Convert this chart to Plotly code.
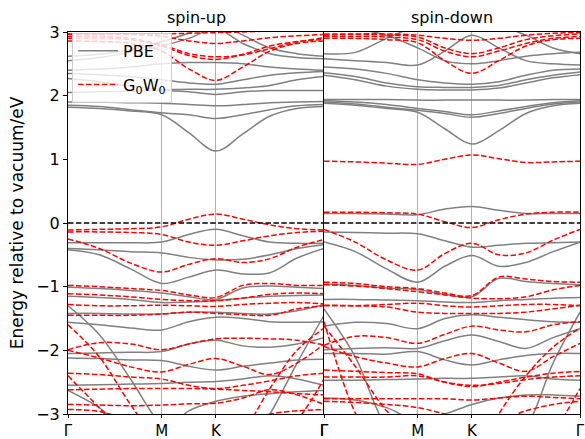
import plotly.graph_objects as go

# k-path sample positions (Γ -> M -> K -> Γ, hexagonal BZ path lengths)
K_PATH = [0.0, 0.192, 0.385, 0.577, 0.744, 0.911, 1.077, 1.244, 1.411, 1.577]
TICK_POS = [0.0, 0.577, 0.911, 1.577]
TICK_LABELS = ["Γ", "M", "K", "Γ"]
Y_TICKS = [-3, -2, -1, 0, 1, 2, 3]
PANEL_TITLES = ["spin-up", "spin-down"]

# spin-up, PBE bands (eV)
UP_PBE = [
    [1.82, 1.80, 1.76, 1.70, 1.42, 1.13, 1.40, 1.68, 1.80, 1.83],
    [1.85, 1.83, 1.78, 1.73, 1.70, 1.64, 1.70, 1.78, 1.84, 1.86],
    [1.90, 1.90, 1.89, 1.88, 1.86, 1.84, 1.86, 1.89, 1.90, 1.91],
    [2.05, 2.06, 2.07, 2.08, 2.06, 2.02, 2.06, 2.08, 2.08, 2.08],
    [2.27, 2.22, 2.15, 2.10, 2.10, 2.10, 2.12, 2.16, 2.25, 2.30],
    [2.35, 2.33, 2.30, 2.25, 2.20, 2.18, 2.25, 2.32, 2.36, 2.38],
    [2.40, 2.42, 2.45, 2.50, 2.52, 2.52, 2.50, 2.45, 2.42, 2.40],
    [2.55, 2.60, 2.68, 2.78, 2.90, 3.05, 2.82, 2.66, 2.60, 2.58],
    [2.62, 2.65, 2.72, 2.85, 2.98, 3.15, 2.95, 2.75, 2.66, 2.62],
    [-0.31, -0.31, -0.31, -0.30, -0.18, -0.10, -0.20, -0.30, -0.32, -0.32],
    [-0.40, -0.42, -0.45, -0.47, -0.54, -0.58, -0.57, -0.50, -0.40, -0.34],
    [-0.42, -0.50, -0.72, -0.95, -0.85, -0.74, -0.80, -0.78, -0.55, -0.40],
    [-1.01, -1.03, -1.06, -1.10, -1.16, -1.20, -1.02, -0.99, -1.01, -1.03],
    [-1.15, -1.17, -1.20, -1.25, -1.24, -1.22, -1.18, -1.15, -1.14, -1.13],
    [-1.42, -1.42, -1.43, -1.43, -1.40, -1.40, -1.42, -1.43, -1.38, -1.28],
    [-1.56, -1.60, -1.65, -1.68, -1.55, -1.48, -1.50, -1.55, -1.56, -1.55],
    [-2.05, -2.04, -2.03, -2.02, -1.90, -1.84, -1.93, -1.95, -1.90, -1.80],
    [-2.12, -2.13, -2.15, -2.16, -2.25, -2.31, -2.25, -2.20, -2.15, -2.14],
    [-2.55, -2.54, -2.53, -2.52, -2.50, -2.49, -2.45, -2.40, -2.45, -2.55],
    [-2.63, -2.90, -3.30, -3.30, -2.95, -2.80, -2.72, -2.68, -2.65, -2.63],
    [-1.30, -1.75, -2.45, -3.20, -3.60, -3.80, -3.60, -3.00, -2.20, -1.45],
]

# spin-up, G0W0 bands (eV)
UP_GW = [
    [2.86, 2.85, 2.82, 2.70, 2.42, 2.24, 2.45, 2.70, 2.82, 2.86],
    [2.90, 2.90, 2.88, 2.78, 2.63, 2.57, 2.65, 2.78, 2.85, 2.88],
    [2.93, 2.93, 2.90, 2.80, 2.66, 2.61, 2.64, 2.74, 2.84, 2.91],
    [2.97, 2.97, 2.96, 2.93, 2.86, 2.82, 2.86, 2.91, 2.94, 2.96],
    [2.96, 2.96, 2.97, 2.97, 2.98, 2.99, 3.00, 3.02, 3.05, 3.05],
    [-0.11, -0.10, -0.09, -0.06, 0.06, 0.14, 0.06, -0.03, -0.09, -0.11],
    [-0.14, -0.14, -0.15, -0.18, -0.30, -0.35, -0.28, -0.20, -0.15, -0.13],
    [-0.25, -0.40, -0.63, -0.77, -0.65, -0.56, -0.62, -0.56, -0.38, -0.26],
    [-0.98, -1.00, -1.03, -1.06, -1.13, -1.17, -0.98, -0.95, -0.98, -0.98],
    [-1.11, -1.13, -1.16, -1.20, -1.22, -1.22, -1.18, -1.12, -1.10, -1.11],
    [-1.28, -1.30, -1.30, -1.29, -1.30, -1.31, -1.28, -1.26, -1.25, -1.27],
    [-1.45, -1.45, -1.45, -1.43, -1.40, -1.42, -1.44, -1.45, -1.35, -1.30],
    [-1.99, -1.88, -1.90, -1.99, -1.90, -1.82, -1.81, -1.82, -1.84, -1.92],
    [-2.00, -2.12, -2.26, -2.34, -2.22, -2.13, -2.25, -2.38, -2.20, -1.90],
    [-2.36, -2.38, -2.42, -2.45, -2.55, -2.60, -2.55, -2.48, -2.40, -2.36],
    [-2.62, -2.61, -2.60, -2.60, -2.60, -2.61, -2.63, -2.65, -2.68, -2.70],
    [-2.85, -2.86, -2.87, -2.86, -2.84, -2.83, -2.75, -2.62, -2.70, -2.85],
    [-2.93, -2.96, -3.10, -3.20, -3.30, -3.20, -3.10, -3.00, -2.95, -2.93],
    [-1.60, -2.10, -2.85, -3.50, -3.80, -3.80, -3.30, -2.60, -2.00, -1.65],
    [-2.40, -2.90, -3.40, -3.60, -3.60, -3.60, -3.60, -3.50, -3.10, -2.45],
]

# spin-down, PBE bands (eV)
DN_PBE = [
    [1.88, 1.85, 1.80, 1.74, 1.48, 1.24, 1.45, 1.72, 1.84, 1.88],
    [1.90, 1.87, 1.82, 1.77, 1.72, 1.66, 1.72, 1.80, 1.87, 1.90],
    [1.92, 1.90, 1.86, 1.80, 1.75, 1.70, 1.76, 1.83, 1.89, 1.92],
    [1.94, 1.94, 1.94, 1.93, 1.93, 1.93, 1.93, 1.93, 1.94, 1.94],
    [2.32, 2.25, 2.15, 2.10, 2.09, 2.09, 2.12, 2.20, 2.28, 2.33],
    [2.36, 2.30, 2.20, 2.14, 2.13, 2.13, 2.16, 2.25, 2.32, 2.37],
    [2.45, 2.42, 2.35, 2.25, 2.20, 2.18, 2.22, 2.32, 2.40, 2.42],
    [2.58, 2.55, 2.52, 2.48, 2.70, 2.95, 2.75, 2.55, 2.50, 2.48],
    [2.66, 2.68, 2.90, 3.10, 3.20, 3.20, 3.10, 2.95, 2.75, 2.66],
    [3.10, 3.05, 2.95, 2.75, 2.55, 2.50, 2.55, 2.62, 2.66, 2.68],
    [0.15, 0.15, 0.14, 0.13, 0.22, 0.26, 0.20, 0.15, 0.15, 0.15],
    [-0.14, -0.15, -0.16, -0.17, -0.28, -0.38, -0.35, -0.32, -0.31, -0.30],
    [-0.30, -0.45, -0.72, -0.93, -0.68, -0.51, -0.68, -0.62, -0.45, -0.30],
    [-0.96, -0.98, -1.02, -1.05, -1.12, -1.16, -0.87, -0.92, -0.95, -0.97],
    [-1.20, -1.20, -1.21, -1.22, -1.24, -1.25, -1.22, -1.20, -1.18, -1.17],
    [-1.62, -1.56, -1.58, -1.66, -1.50, -1.44, -1.48, -1.52, -1.55, -1.56],
    [-1.99, -1.97, -1.96, -1.97, -1.85, -1.76, -1.86, -1.97, -1.80, -1.66],
    [-2.05, -2.05, -2.06, -2.02, -2.15, -2.23, -2.15, -2.08, -2.05, -2.05],
    [-2.47, -2.47, -2.46, -2.45, -2.44, -2.44, -2.42, -2.40, -2.45, -2.47],
    [-1.35, -2.10, -3.20, -3.60, -3.80, -3.80, -3.50, -3.20, -2.20, -1.40],
    [-2.75, -2.78, -2.90, -3.10, -3.00, -2.85, -2.75, -2.70, -2.70, -2.72],
]

# spin-down, G0W0 bands (eV)
DN_GW = [
    [0.97, 0.96, 0.94, 0.92, 1.00, 1.07, 1.01, 0.95, 0.96, 0.97],
    [2.90, 2.90, 2.88, 2.83, 2.55, 2.35, 2.55, 2.78, 2.88, 2.90],
    [2.93, 2.93, 2.92, 2.88, 2.70, 2.61, 2.70, 2.82, 2.90, 2.93],
    [2.95, 2.96, 2.95, 2.92, 2.75, 2.66, 2.75, 2.88, 2.94, 2.97],
    [2.97, 2.97, 2.97, 2.95, 2.90, 2.87, 2.90, 2.95, 2.98, 2.99],
    [0.17, 0.17, 0.16, 0.14, 0.02, -0.07, 0.05, 0.14, 0.17, 0.17],
    [-0.10, -0.30, -0.58, -0.74, -0.48, -0.32, -0.50, -0.47, -0.27, -0.10],
    [-0.93, -0.95, -1.00, -1.03, -1.10, -1.14, -0.85, -0.88, -0.92, -0.93],
    [-0.97, -0.99, -1.03, -1.08, -1.13, -1.18, -1.19, -1.16, -1.05, -0.98],
    [-1.30, -1.30, -1.28, -1.26, -1.30, -1.32, -1.30, -1.28, -1.28, -1.30],
    [-1.29, -1.30, -1.32, -1.40, -1.42, -1.42, -1.42, -1.40, -1.35, -1.29],
    [-1.92, -1.78, -1.80, -1.89, -1.75, -1.62, -1.68, -1.71, -1.60, -1.55],
    [-1.94, -2.10, -2.20, -2.26, -2.13, -2.05, -2.20, -2.33, -2.10, -1.89],
    [-2.31, -2.33, -2.35, -2.37, -2.50, -2.57, -2.50, -2.42, -2.36, -2.33],
    [-2.42, -2.42, -2.42, -2.40, -2.50, -2.55, -2.52, -2.46, -2.42, -2.40],
    [-2.76, -2.76, -2.76, -2.76, -2.76, -2.78, -2.75, -2.72, -2.74, -2.76],
    [-1.55, -2.98, -3.80, -4.00, -4.00, -4.00, -4.00, -3.80, -3.30, -2.60],
    [-1.62, -2.25, -2.95, -3.40, -3.70, -3.80, -3.00, -2.40, -1.95, -1.65],
    [-2.80, -2.82, -2.85, -2.90, -3.00, -3.10, -3.10, -2.95, -2.85, -2.80],
]

FONT = "DejaVu Sans"
GRAY = "#808080"
RED = "#ff0000"
DASH = "5.5px,2.4px"

fig = go.Figure()


def add_bands(bands, xa, ya, color, dash, name, legend):
    for i, band in enumerate(bands):
        fig.add_trace(go.Scatter(
            x=K_PATH, y=band, xaxis=xa, yaxis=ya, mode="lines",
            line=dict(color=color, width=1.5, dash=dash, shape="spline", smoothing=1.0),
            name=name, legendgroup=name, showlegend=(legend and i == 0),
            hoverinfo="skip"))


add_bands(UP_PBE, "x", "y", GRAY, "solid", "PBE", True)
add_bands(DN_PBE, "x2", "y2", GRAY, "solid", "PBE", False)
add_bands(UP_GW, "x", "y", RED, DASH, "G<sub>0</sub>W<sub>0</sub>", True)
add_bands(DN_GW, "x2", "y2", RED, DASH, "G<sub>0</sub>W<sub>0</sub>", False)

for xa, ya in (("x", "y"), ("x2", "y2")):
    fig.add_trace(go.Scatter(
        x=[TICK_POS[0], TICK_POS[-1]], y=[0, 0], xaxis=xa, yaxis=ya, mode="lines",
        line=dict(color="black", width=1.5, dash=DASH),
        showlegend=False, hoverinfo="skip"))

xcommon = dict(
    range=[TICK_POS[0], TICK_POS[-1]], tickvals=TICK_POS, ticktext=TICK_LABELS,
    ticks="outside", ticklen=3, tickcolor="black", showline=True, mirror=True,
    linecolor="black", linewidth=1, showgrid=True, gridcolor="#b0b0b0",
    gridwidth=0.8, zeroline=False, tickfont=dict(size=15, color="black"),
    automargin=False)

fig.update_layout(
    width=585, height=439,
    margin=dict(l=68, r=5, t=32, b=25),
    paper_bgcolor="white", plot_bgcolor="white",
    font=dict(family=FONT, size=16, color="black"),
    xaxis=dict(domain=[0, 0.5], anchor="y", **xcommon),
    xaxis2=dict(domain=[0.5, 1], anchor="y2", **xcommon),
    yaxis=dict(range=[-3, 3], tickvals=Y_TICKS, ticks="outside", ticklen=4,
               tickcolor="black", showline=True, mirror=False, linecolor="black",
               linewidth=1, showgrid=False, zeroline=False, anchor="x",
               tickfont=dict(size=16, color="black"), automargin=False,
               title=dict(text="Energy relative to vacuum/eV", font=dict(size=17), standoff=8)),
    yaxis2=dict(range=[-3, 3], matches="y", anchor="x2", showticklabels=False,
                ticks="", showline=True, mirror=True, linecolor="black",
                linewidth=1, showgrid=False, zeroline=False),
    legend=dict(x=0.008, y=0.998, xanchor="left", yanchor="top",
                bgcolor="rgba(255,255,255,0.8)", bordercolor="#cccccc",
                borderwidth=1, font=dict(size=16), itemwidth=40),
    showlegend=True,
)

for i, title in enumerate(PANEL_TITLES):
    fig.add_annotation(text=title, x=0.25 + 0.5 * i, y=1, xref="paper", yref="paper",
                       xanchor="center", yanchor="bottom", yshift=3, showarrow=False,
                       font=dict(size=16, color="black"))

fig.write_html("out.html", config={"displayModeBar": False},
               post_script="document.body.style.margin='0px';document.body.style.overflow='hidden';")
